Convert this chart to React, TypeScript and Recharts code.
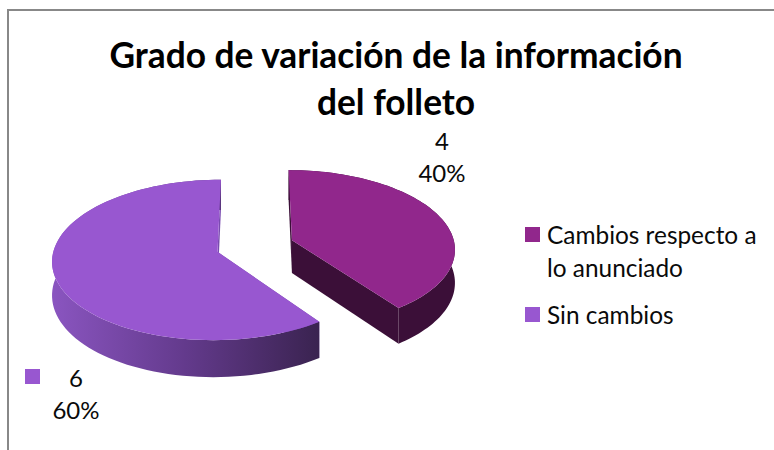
import React from 'react';
import { PieChart, Pie, Legend } from 'recharts';

const categories = ['Cambios respecto a lo anunciado', 'Sin cambios'];
const values = [4, 6];
const topColors = ['#91278c', '#9857d0'];
const titleLines = ['Grado de variación de la información', 'del folleto'];

const tableData = categories.map((name, i) => ({ name, value: values[i], fill: topColors[i] }));

// fake 3D: the sectors from recharts get projected on a tilted plane
const TILT = 0.48;
const PERSPECTIVE = 0.1;
const EXPLODE = 0.24;
const DEPTH = 33;
const FONT = 'Lato, "Open Sans", sans-serif';

const rad = (deg: number) => (deg * Math.PI) / 180;

const Slice3D = (props: any) => {
  const { cx, cy, outerRadius, startAngle, endAngle, fill, index } = props;
  const mid = rad((startAngle + endAngle) / 2);
  const ox = EXPLODE * Math.cos(mid);
  const oy = EXPLODE * Math.sin(mid);

  const project = (u: number, v: number, down = false) => {
    const s = 1 / (1 + PERSPECTIVE * (v + oy));
    return [
      cx + outerRadius * (u + ox) * s,
      cy - outerRadius * TILT * (v + oy) * s + (down ? DEPTH * s : 0),
    ];
  };

  const arc: number[][] = [];
  const steps = 90;
  for (let i = 0; i <= steps; i++) {
    const a = rad(startAngle + ((endAngle - startAngle) * i) / steps);
    arc.push([Math.cos(a), Math.sin(a)]);
  }
  const toPath = (pts: number[][]) =>
    'M' + pts.map((p) => `${p[0].toFixed(2)},${p[1].toFixed(2)}`).join('L') + 'Z';

  const top = toPath([project(0, 0), ...arc.map(([u, v]) => project(u, v))]);
  const wall = toPath([
    ...arc.map(([u, v]) => project(u, v)),
    ...arc.slice().reverse().map(([u, v]) => project(u, v, true)),
  ]);
  const first = arc[0];
  const last = arc[arc.length - 1];
  const faceA = toPath([project(0, 0), project(first[0], first[1]), project(first[0], first[1], true), project(0, 0, true)]);
  const faceB = toPath([project(0, 0), project(last[0], last[1]), project(last[0], last[1], true), project(0, 0, true)]);

  const sideFill = index === 0 ? '#3b0f38' : 'url(#wallGrad)';
  const faceFill = index === 0 ? '#3b0f38' : '#7a4cb0';
  return (
    <g>
      <defs>
        <linearGradient id="wallGrad" x1="0" y1="0" x2="1" y2="0">
          <stop offset="0" stopColor="#8a55c0" />
          <stop offset="0.5" stopColor="#633a8c" />
          <stop offset="1" stopColor="#3a2350" />
        </linearGradient>
      </defs>
      <path d={faceA} fill={faceFill} />
      <path d={faceB} fill={faceFill} />
      <path d={wall} fill={sideFill} />
      <path d={top} fill={fill} />
    </g>
  );
};

const renderLabel = (props: any) => {
  const { value, percent, index, fill } = props;
  const x = index === 0 ? 442 : 76;
  const y = index === 0 ? 150 : 387;
  return (
    <g key={index} fontFamily={FONT} fontSize={24} fill="#0a0a0a">
      {index === 1 && <rect x={25} y={369} width={15} height={15} fill={fill} />}
      <text x={x} y={y} textAnchor="middle">{value}</text>
      <text x={x} y={y + 32} textAnchor="middle">{`${Math.round(percent * 100)}%`}</text>
    </g>
  );
};

const renderLegend = (props: any) => (
  <div style={{ fontFamily: FONT, fontSize: 24.4, lineHeight: '33px', color: '#0a0a0a' }}>
    {props.payload.map((entry: any) => (
      <div key={entry.value} style={{ position: 'relative', paddingLeft: 22, marginBottom: 14 }}>
        <span style={{ position: 'absolute', left: 0, top: 9, width: 15, height: 15, background: entry.color }} />
        {entry.value}
      </div>
    ))}
  </div>
);

export default function App() {
  return (
    <div style={{ position: 'absolute', left: 0, top: 0, width: 774, height: 450, overflow: 'hidden', background: '#fff' }}>
      <div style={{ position: 'absolute', left: 7, top: 9, width: 767, height: 441, borderTop: '2px solid #888', borderLeft: '2px solid #888', boxSizing: 'border-box' }} />
      <PieChart width={774} height={450} style={{ position: 'absolute', left: 0, top: 0 }}>
        <Pie
          data={tableData}
          dataKey="value"
          nameKey="name"
          cx={250}
          cy={241}
          outerRadius={163}
          startAngle={90}
          endAngle={-270}
          stroke="none"
          shape={Slice3D}
          label={renderLabel}
          labelLine={false}
          isAnimationActive={false}
        />
        <Legend
          content={renderLegend}
          wrapperStyle={{ left: 525, top: 218, width: 240, bottom: 'auto', right: 'auto' }}
        />
      </PieChart>
      <div style={{ position: 'absolute', left: 0, top: 31, width: 792, textAlign: 'center', fontFamily: FONT, fontWeight: 700, fontSize: 35.3, lineHeight: '47px', color: '#000' }}>
        {titleLines.map((line) => <div key={line}>{line}</div>)}
      </div>
    </div>
  );
}
